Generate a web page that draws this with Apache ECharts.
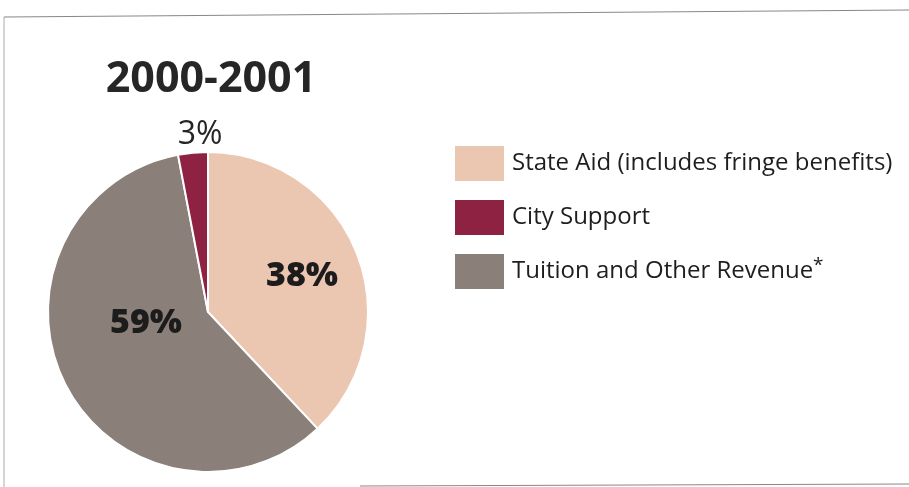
<!DOCTYPE html>
<html><head><meta charset="utf-8">
<script src="https://cdn.jsdelivr.net/npm/echarts@6/dist/echarts.min.js"></script>
<style>html,body{margin:0;padding:0;background:#fff}#c{width:909px;height:487px}</style>
</head><body><div id="c"></div>
<script>
const titleText = '2000-2001';
const categories = ['State Aid (includes fringe benefits)', 'Tuition and Other Revenue*', 'City Support'];
const values = [38, 59, 3];
const colors = ['#EBC6B1', '#8B7F79', '#8D2242'];
const legendOrder = ['State Aid (includes fringe benefits)', 'City Support', 'Tuition and Other Revenue*'];
const labelPos = [[302, 276], [146, 323], [200, 135]];

const chart = echarts.init(document.getElementById('c'));
chart.setOption({
  animation: false,
  backgroundColor: '#fff',
  title: {
    text: titleText, left: 211, top: 58, textAlign: 'center', padding: 0,
    textStyle: { fontFamily: 'Open Sans', fontWeight: 'bold', fontSize: 43, color: '#262626' }
  },
  legend: {
    data: legendOrder, orient: 'vertical', left: 453, top: 144, padding: 0,
    itemWidth: 51, itemHeight: 37, itemGap: 15, icon: 'rect',
    textStyle: { fontFamily: 'Open Sans', fontSize: 24, color: '#1e1e1e', padding: [0, 0, 0, 2],
      rich: { sup: { fontFamily: 'Open Sans', fontSize: 19, color: '#1e1e1e', verticalAlign: 'top', padding: [0, 0, 12, 0] } } },
    formatter: n => n.replace('*', '{sup|*}'),
    selectedMode: false
  },
  graphic: [
    { type: 'polyline', shape: { points: [[4, 17], [909, 10]] }, style: { stroke: '#888', lineWidth: 1.2 } },
    { type: 'line', shape: { x1: 4, y1: 17, x2: 4, y2: 487 }, style: { stroke: '#aaa', lineWidth: 1 } },
    { type: 'polyline', shape: { points: [[360, 486], [909, 484]] }, style: { stroke: '#888', lineWidth: 1.2 } }
  ],
  series: [{
    type: 'pie', center: [208, 312], radius: 160, startAngle: 90, clockwise: true,
    itemStyle: { borderColor: '#fff', borderWidth: 2 },
    emphasis: { disabled: true },
    labelLine: { show: false },
    label: {
      show: true, position: 'inside', formatter: '{c}%',
      fontFamily: 'Open Sans', fontWeight: 800, fontSize: 34, color: '#1c1c1c'
    },
    labelLayout: p => ({ x: labelPos[p.dataIndex][0], y: labelPos[p.dataIndex][1], align: 'center', verticalAlign: 'middle' }),
    data: categories.map((c, i) => ({
      name: c, value: values[i], itemStyle: { color: colors[i] },
      label: i === 2 ? { fontWeight: 'normal', fontSize: 32, color: '#262626' } : undefined
    }))
  }]
});
</script></body></html>
